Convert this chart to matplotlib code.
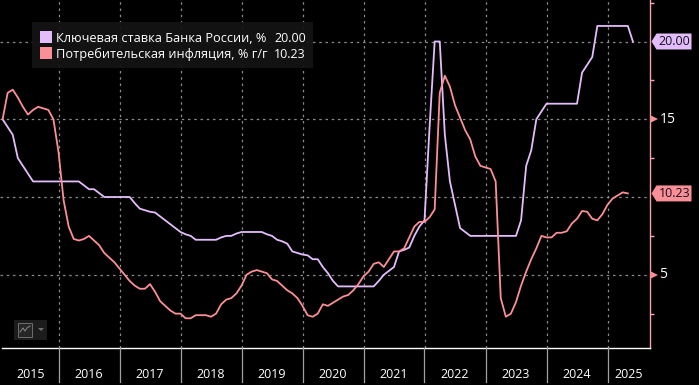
import matplotlib
matplotlib.use("Agg")
import matplotlib.pyplot as plt
import numpy as np
from matplotlib.patches import Rectangle, Polygon
from matplotlib.lines import Line2D

plt.rcParams['font.family'] = ['Open Sans', 'DejaVu Sans']

W, H = 699, 385

# ---------- data (monthly points) ----------
key_rate = [15, 14.5, 14, 12.5, 12, 11.5, 11, 11, 11, 11, 11, 11, 11, 11, 11, 11,
            10.75, 10.5, 10.5, 10.25, 10, 10, 10, 10, 10, 10, 9.6, 9.25, 9.15, 9.05,
            9, 8.75, 8.5, 8.25, 8, 7.75, 7.6, 7.5, 7.25, 7.25, 7.25, 7.25, 7.25, 7.4,
            7.5, 7.5, 7.65, 7.75, 7.75, 7.75, 7.75, 7.75, 7.6, 7.5, 7.25, 7.15, 7, 6.5,
            6.4, 6.3, 6.25, 6, 6, 5.5, 5.1, 4.6, 4.25, 4.25, 4.25, 4.25, 4.25, 4.25,
            4.25, 4.25, 4.6, 5, 5.25, 5.5, 6.5, 6.6, 6.75, 7.5, 8.1, 8.5, 14.5, 20, 20,
            14, 11, 9.5, 8, 7.75, 7.5, 7.5, 7.5, 7.5, 7.5, 7.5, 7.5, 7.5, 7.5, 7.5, 8.5,
            12, 13, 15, 15.5, 16, 16, 16, 16, 16, 16, 16, 18, 18.5, 19, 21, 21, 21, 21,
            21, 21, 21, 20]
inflation = [15.0, 16.7, 16.9, 16.4, 15.8, 15.3, 15.6, 15.8, 15.7, 15.6, 15.0, 12.9,
             9.8, 8.1, 7.3, 7.2, 7.3, 7.5, 7.2, 6.9, 6.4, 6.1, 5.8, 5.4,
             5.0, 4.6, 4.3, 4.1, 4.1, 4.4, 3.9, 3.3, 3.0, 2.7, 2.5, 2.5,
             2.2, 2.2, 2.4, 2.4, 2.4, 2.3, 2.5, 3.1, 3.4, 3.5, 3.8, 4.3,
             5.0, 5.2, 5.3, 5.2, 5.1, 4.7, 4.6, 4.3, 4.0, 3.8, 3.5, 3.0,
             2.4, 2.3, 2.5, 3.1, 3.0, 3.2, 3.4, 3.6, 3.7, 4.0, 4.4, 4.9,
             5.2, 5.7, 5.8, 5.5, 6.0, 6.5, 6.5, 6.7, 7.4, 8.1, 8.4, 8.4,
             8.7, 9.2, 16.7, 17.8, 17.1, 15.9, 15.1, 14.3, 13.7, 12.6, 12.0, 11.9,
             11.8, 11.0, 3.5, 2.3, 2.5, 3.25, 4.3, 5.2, 6.0, 6.7, 7.5, 7.4,
             7.4, 7.7, 7.7, 7.8, 8.3, 8.6, 9.1, 9.05, 8.6, 8.5, 8.9, 9.5,
             9.9, 10.1, 10.3, 10.23]
years = [2016, 2017, 2018, 2019, 2020, 2021, 2022, 2023, 2024, 2025]
year_labels = ['2015', '2016', '2017', '2018', '2019', '2020', '2021', '2022', '2023', '2024', '2025']
major_ticks = [5, 10, 15, 20]
minor_ticks = [2.5, 7.5, 12.5, 17.5, 22.5]
rate_name = 'Ключевая ставка Банка России, %'
infl_name = 'Потребительская инфляция, % г/г'
rate_last = '20.00'
infl_last = '10.23'

rate_col = '#e3bdfb'
infl_col = '#fb8f98'
grid_col = '#8a8a8a'

rate_x = 2015 + (np.arange(len(key_rate)) + 1) / 12
infl_x = 2015 + (np.arange(len(inflation)) + 1) / 12

fig = plt.figure(figsize=(W / 100, H / 100), dpi=100, facecolor='black')
ax = fig.add_axes([0, 1 - 348 / H, 649.5 / W, 348 / H], facecolor='black')

x0 = 2016 - 58.5 / 61
ax.set_xlim(x0, x0 + 649.5 / 61)
ax.set_ylim(20 - (348 - 41.5) / 15.55, 20 + 41.5 / 15.55)

# ---------- grid ----------
for y in major_ticks:
    ax.axhline(y, color=grid_col, lw=0.9, ls=(0, (2, 3)), zorder=1)
for yr in years:
    ax.axvline(yr, color=grid_col, lw=0.9, ls=(0, (2, 3)), zorder=1)

# ---------- lines ----------
ax.plot(rate_x, key_rate, color=rate_col, lw=1.3, zorder=3, solid_joinstyle='round')
ax.plot(infl_x, inflation, color=infl_col, lw=1.3, zorder=4, solid_joinstyle='round')

# ---------- axes ----------
for s in ['top', 'left']:
    ax.spines[s].set_visible(False)
ax.spines['bottom'].set_color('white')
ax.spines['bottom'].set_linewidth(1.0)
ax.spines['bottom'].set_bounds(x0 + 2 / 61, x0 + 649.5 / 61)
ax.spines['right'].set_color('#f4a3a8')
ax.spines['right'].set_linewidth(1.0)

ax.yaxis.tick_right()
ax.set_yticks(major_ticks)
ax.set_yticklabels([])
ax.set_yticks(minor_ticks, minor=True)
ax.tick_params(axis='y', which='minor', length=3, width=1, color='#f4a3a8')
ax.tick_params(axis='y', which='major', length=0)
ax.set_xticks([])

ytr = ax.get_yaxis_transform()
ax.plot([1 + 4 / 649.5] * 2, [5, 15], ls='none', marker='>', ms=6, color=infl_col,
        mew=0, transform=ytr, clip_on=False, zorder=5)
for y in [5, 15]:
    ax.text(1 + 10 / 649.5, y, str(y), color='white', fontsize=10, va='center',
            ha='left', transform=ytr, clip_on=False)


def value_tag(value, label, colour):
    # flag on the right axis: pointed box holding the last value
    y_half = 8 / 15.55
    pts = [(1 + 2 / 649.5, value), (1 + 7 / 649.5, value + y_half),
           (1 + 42 / 649.5, value + y_half), (1 + 42 / 649.5, value - y_half),
           (1 + 7 / 649.5, value - y_half)]
    ax.add_patch(Polygon(pts, closed=True, fc=colour, ec='none', transform=ytr,
                         clip_on=False, zorder=6))
    ax.text(1 + 9 / 649.5, value, label, color='#14101c', fontsize=9, va='center',
            ha='left', transform=ytr, clip_on=False, zorder=7)


value_tag(key_rate[-1], rate_last, rate_col)
value_tag(inflation[-1], infl_last, infl_col)

# ---------- year band below the axis ----------
def fx(v): return v / W
def fy(v): return 1 - v / H

edges = [2] + [58.5 + 61 * i for i in range(len(years))] + [649.5]
for e in edges[1:-1]:
    fig.add_artist(Line2D([fx(e), fx(e)], [fy(348), fy(382)], color='#a0a0a0', lw=0.9))
for i, lab in enumerate(year_labels):
    cx = (edges[i] + edges[i + 1]) / 2
    fig.text(fx(cx), fy(378), lab, color='white', fontsize=9, ha='center', va='baseline')

# ---------- legend ----------
fig.add_artist(Rectangle((fx(32), fy(68)), 281 / W, 46 / H, fc='#141414', ec='none',
                         alpha=0.93, zorder=5))
for top, col, name, last in [(31, rate_col, rate_name, rate_last),
                             (47, infl_col, infl_name, infl_last)]:
    fig.add_artist(Rectangle((fx(40), fy(top + 12)), 12 / W, 12 / H, fc=col, ec='none', zorder=6))
    fig.text(fx(56), fy(top + 7), name, color='white', fontsize=9.2, va='center', ha='left', zorder=7)
    fig.text(fx(306), fy(top + 7), last, color='white', fontsize=9, va='center', ha='right', zorder=7)

# ---------- small chart-type button ----------
fig.add_artist(Rectangle((fx(14), fy(340)), 33 / W, 20 / H, fc='#1c1c1c', ec='none', zorder=5))
fig.add_artist(Rectangle((fx(18), fy(337)), 14 / W, 14 / H, fc='#262626', ec='#6e6e6e', lw=0.7, zorder=6))
fig.add_artist(Line2D([fx(v) for v in (20, 23, 25, 27, 30)],
                      [fy(v) for v in (332, 328, 331, 328, 326)], color='#8a8a8a', lw=0.7, zorder=7))
fig.add_artist(Polygon([(fx(38), fy(328)), (fx(44), fy(328)), (fx(41), fy(331))], closed=True,
                       fc='#6e6e6e', ec='none', zorder=6))

fig.savefig('out.png', dpi=100, facecolor='black')
